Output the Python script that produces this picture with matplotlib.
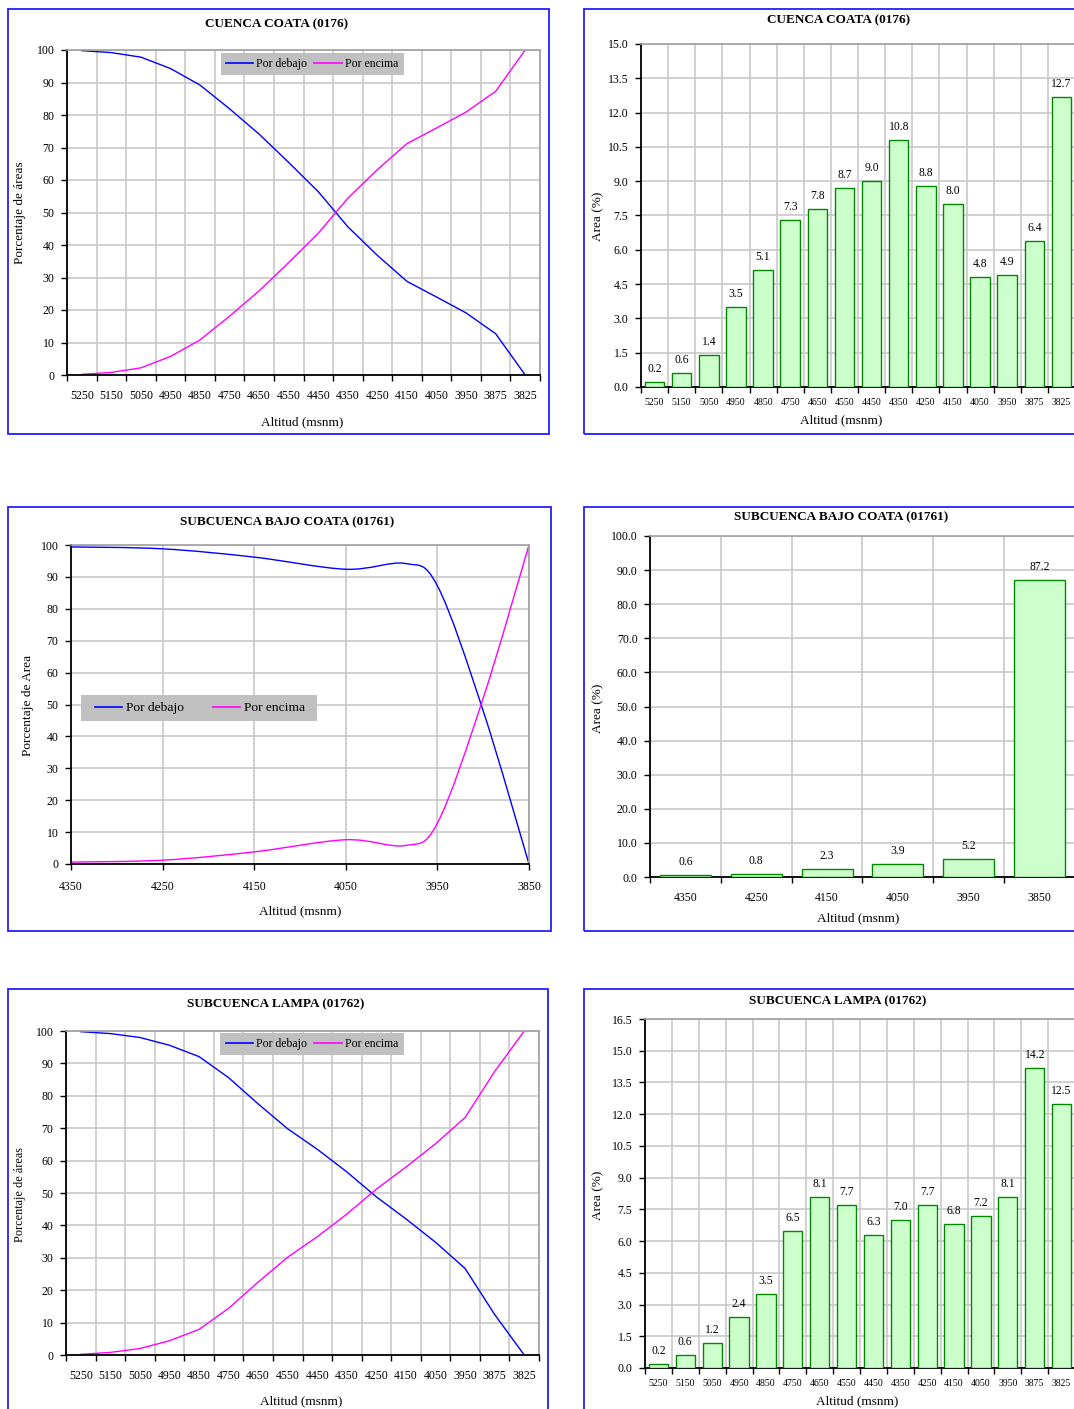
import matplotlib
matplotlib.use('Agg')
import matplotlib.pyplot as plt
from matplotlib.patches import Rectangle, PathPatch
from matplotlib.path import Path
from matplotlib.lines import Line2D
import numpy as np

plt.rcParams['font.family'] = ['Liberation Serif', 'DejaVu Serif']

# ---------------- data ----------------
alt_labels16 = ['5250', '5150', '5050', '4950', '4850', '4750', '4650', '4550',
                '4450', '4350', '4250', '4150', '4050', '3950', '3875', '3825']

coata_area = [0.2, 0.6, 1.4, 3.5, 5.1, 7.3, 7.8, 8.7, 9.0, 10.8, 8.8, 8.0, 4.8, 4.9, 6.4, 12.7]
coata_debajo = [99.8, 99.2, 97.8, 94.3, 89.2, 81.9, 74.1, 65.4, 56.4, 45.6, 36.8, 28.8, 24.0, 19.1, 12.7, 0.0]
coata_encima = [0.2, 0.8, 2.2, 5.7, 10.8, 18.1, 25.9, 34.6, 43.6, 54.4, 63.2, 71.2, 76.0, 80.9, 87.3, 100.0]

bajo_alt_curve = [4350, 4250, 4150, 4050, 3985, 3950, 3900, 3850]
bajo_debajo = [99.4, 98.8, 96.2, 92.4, 94.2, 87.2, 48.0, 0.0]
bajo_encima = [0.6, 1.2, 3.8, 7.6, 5.8, 12.8, 52.0, 100.0]
bajo_ticks = [4350, 4250, 4150, 4050, 3950, 3850]
bajo_labels = ['4350', '4250', '4150', '4050', '3950', '3850']
bajo_area = [0.6, 0.8, 2.3, 3.9, 5.2, 87.2]

lampa_area = [0.2, 0.6, 1.2, 2.4, 3.5, 6.5, 8.1, 7.7, 6.3, 7.0, 7.7, 6.8, 7.2, 8.1, 14.2, 12.5]
lampa_debajo = [99.8, 99.2, 98.0, 95.6, 92.1, 85.6, 77.5, 69.8, 63.5, 56.5, 48.8, 42.0, 34.8, 26.7, 12.5, 0.0]
lampa_encima = [0.2, 0.8, 2.0, 4.4, 7.9, 14.4, 22.5, 30.2, 36.5, 43.5, 51.2, 58.0, 65.2, 73.3, 87.5, 100.0]

# ---------------- style ----------------
W, H = 1074, 1409
fig = plt.figure(figsize=(W / 100, H / 100), dpi=100)
fig.patch.set_facecolor('white')

BLUE = '#0000ff'
MAG = '#ff00ff'
GRID = '#c8c8c8'
BORDER = '#2020ff'
BAR_FACE = '#ccffcc'
BAR_EDGE = '#008800'
TICKFS = 8.5


def rect(l, t, r, b):
    return [l / W, 1 - b / H, (r - l) / W, (b - t) / H]


def fx(x):
    return x / W


def fy(y):
    return 1 - y / H


def border(l, t, r, b):
    fig.patches.append(Rectangle((l / W, 1 - b / H), (r - l) / W, (b - t) / H,
                                 transform=fig.transFigure, fill=False,
                                 edgecolor=BORDER, lw=1.3, zorder=10))


def style(ax):
    for s in ['top', 'right']:
        ax.spines[s].set_color('#a0a0a0')
        ax.spines[s].set_linewidth(1.2)
    for s in ['left', 'bottom']:
        ax.spines[s].set_color('black')
        ax.spines[s].set_linewidth(1.3)
    ax.grid(True, color=GRID, lw=1.2)
    ax.set_axisbelow(True)
    ax.tick_params(axis='y', length=4, width=1, direction='out', pad=5,
                   labelsize=TICKFS, colors='black')


def cat_x(ax, labels, fs, pad):
    n = len(labels)
    ax.set_xlim(-0.5, n - 0.5)
    ax.set_xticks(np.arange(n + 1) - 0.5)
    ax.set_xticklabels([])
    ax.set_xticks(np.arange(n), minor=True)
    ax.set_xticklabels(labels, minor=True, fontsize=fs)
    ax.tick_params(axis='x', which='major', length=4, width=1, direction='out')
    ax.tick_params(axis='x', which='minor', length=0, pad=pad)


def smooth_path(x, y, t=1 / 6):
    P = np.column_stack([x, y]).astype(float)
    n = len(P)
    verts = [P[0]]
    codes = [Path.MOVETO]
    for i in range(n - 1):
        p0 = P[max(i - 1, 0)]
        p1 = P[i]
        p2 = P[i + 1]
        p3 = P[min(i + 2, n - 1)]
        verts += [p1 + (p2 - p0) * t, p2 - (p3 - p1) * t, p2]
        codes += [Path.CURVE4] * 3
    return Path(verts, codes)


def legend_box(l, t, r, b, cx, cy, fs, hl, colsp):
    fig.patches.append(Rectangle((l / W, 1 - b / H), (r - l) / W, (b - t) / H,
                                 transform=fig.transFigure, facecolor='#c0c0c0',
                                 edgecolor='none', zorder=4))
    handles = [Line2D([], [], color=BLUE, lw=1.2), Line2D([], [], color=MAG, lw=1.2)]
    fig.legend(handles, ['Por debajo', 'Por encima'], loc='center',
               bbox_to_anchor=(fx(cx), fy(cy)), bbox_transform=fig.transFigure,
               ncol=2, frameon=False, fontsize=fs, handlelength=hl,
               handletextpad=0.3, columnspacing=colsp, borderpad=0, borderaxespad=0)


def line_panel(rc, x_vals, deb, enc):
    ax = fig.add_axes(rect(*rc))
    style(ax)
    cat_x(ax, alt_labels16, TICKFS, 11)
    ax.plot(np.arange(len(x_vals)), deb, color=BLUE, lw=1.0)
    ax.plot(np.arange(len(x_vals)), enc, color=MAG, lw=1.0)
    ax.set_ylim(0, 100)
    ax.set_yticks(np.arange(0, 101, 10))
    return ax


def bar_panel(rc, labels, vals, ymax, step, xfs, xpad):
    ax = fig.add_axes(rect(*rc))
    style(ax)
    x = np.arange(len(labels))
    ax.bar(x, vals, width=0.72, color=BAR_FACE, edgecolor=BAR_EDGE, lw=1.0, zorder=3)
    for xi, v in zip(x, vals):
        ax.annotate(f'{v:.1f}', (xi, v), xytext=(0, 5), textcoords='offset points',
                    ha='center', va='bottom', fontsize=8.4, zorder=4)
    cat_x(ax, labels, xfs, xpad)
    ax.set_ylim(0, ymax)
    ticks = np.arange(0, ymax + 1e-6, step)
    ax.set_yticks(ticks)
    ax.set_yticklabels([f'{t:.1f}' for t in ticks])
    return ax


def texts(title, tx, ty, ylab, ylx, yly, yfs, xlx, xly):
    fig.text(fx(tx), fy(ty), title, ha='center', va='center', fontsize=9.5,
             fontweight='bold')
    fig.text(fx(ylx), fy(yly), ylab, ha='center', va='center', rotation=90, fontsize=yfs)
    fig.text(fx(xlx), fy(xly), 'Altitud (msnm)', ha='center', va='center', fontsize=9.5)


# ---------------- panel 1: CUENCA COATA lines ----------------
border(8, 9, 549, 434)
line_panel((67, 50, 540, 375), alt_labels16, coata_debajo, coata_encima)
legend_box(221, 53, 404, 75, 312, 64, 8.5, 2.3, 0.6)
texts('CUENCA COATA (0176)', 277, 24, 'Porcentaje de áreas', 20, 213, 9.5, 302, 422)

# ---------------- panel 2: CUENCA COATA bars ----------------
border(584, 9, 1090, 434)
bar_panel((641, 44, 1075, 387), alt_labels16, coata_area, 15.0, 1.5, 7, 8)
texts('CUENCA COATA (0176)', 839, 20, 'Area (%)', 598, 216, 9.5, 841, 420)

# ---------------- panel 3: BAJO COATA lines ----------------
border(8, 507, 551, 931)
ax3 = fig.add_axes(rect(71, 545, 529, 864))
style(ax3)
ax3.set_xlim(4350, 3850)
ax3.set_xticks(bajo_ticks)
ax3.set_xticklabels(bajo_labels, fontsize=TICKFS)
ax3.tick_params(axis='x', length=4, width=1, direction='out', pad=8)
ax3.set_ylim(0, 100)
ax3.set_yticks(np.arange(0, 101, 10))
ax3.add_patch(PathPatch(smooth_path(bajo_alt_curve, bajo_debajo), fill=False,
                        edgecolor=BLUE, lw=1.0))
ax3.add_patch(PathPatch(smooth_path(bajo_alt_curve, bajo_encima), fill=False,
                        edgecolor=MAG, lw=1.0))
legend_box(81, 695, 317, 721, 200, 708, 9.7, 2.0, 2.1)
texts('SUBCUENCA BAJO COATA (01761)', 287, 522, 'Porcentaje de Area', 28, 705, 9.6, 300, 911)

# ---------------- panel 4: BAJO COATA bars ----------------
border(584, 507, 1090, 931)
bar_panel((650, 536, 1075, 877), bajo_labels, bajo_area, 100.0, 10.0, TICKFS, 11)
texts('SUBCUENCA BAJO COATA (01761)', 841, 517, 'Area (%)', 598, 708, 9.5, 858, 918)

# ---------------- panel 5: LAMPA lines ----------------
border(8, 989, 548, 1420)
line_panel((66, 1031, 539, 1355), alt_labels16, lampa_debajo, lampa_encima)
legend_box(220, 1033, 404, 1055, 312, 1044, 8.5, 2.3, 0.6)
texts('SUBCUENCA LAMPA (01762)', 276, 1004, 'Porcentaje de áreas', 20, 1194, 8.8, 301, 1401)

# ---------------- panel 6: LAMPA bars ----------------
border(584, 989, 1090, 1420)
bar_panel((645, 1019, 1075, 1368), alt_labels16, lampa_area, 16.5, 1.5, 7, 8)
texts('SUBCUENCA LAMPA (01762)', 838, 1001, 'Area (%)', 598, 1195, 9.5, 857, 1401)

fig.savefig('out.png', dpi=100)
